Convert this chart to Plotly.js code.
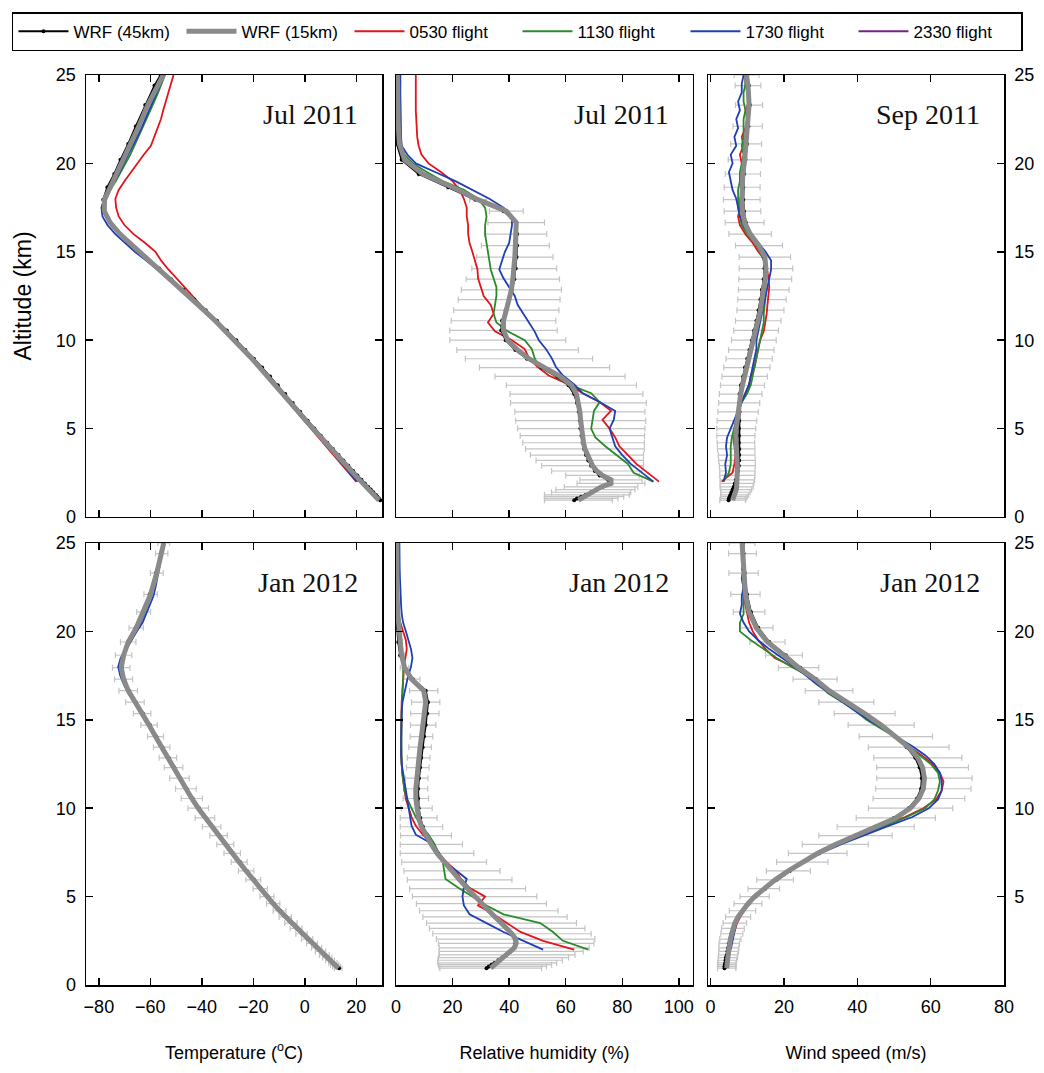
<!DOCTYPE html>
<html>
<head>
<meta charset="utf-8">
<script src="https://cdn.plot.ly/plotly-3.0.1.min.js"></script>
<style>
  html, body { margin: 0; padding: 0; background: #ffffff; }
  #chart { width: 1044px; height: 1073px; }
</style>
</head>
<body>
<div id="chart"></div>
<script>
// ---- Altitude levels (km) ----
// WRF model levels (denser near the surface)
const ALT_MODEL = [0.95, 1.05, 1.15, 1.25, 1.4, 1.55, 1.7, 1.9, 2.1, 2.35,
  2.6, 2.9, 3.2, 3.5, 3.85, 4.2, 4.6, 5.0, 5.45, 5.95,
  6.45, 6.95, 7.45, 7.95, 8.45, 8.95, 9.45, 10.0, 10.55, 11.1,
  11.7, 12.3, 12.85, 13.45, 14.05, 14.7, 15.35, 16.0, 16.65, 17.3,
  17.95, 18.65, 19.4, 20.2, 21.1, 22.1, 23.3, 24.4, 25.0];
// Flight (sounding) levels
const ALT_FLIGHT = [2.0, 2.5, 3.0, 3.5, 4.0, 4.5, 5.0, 5.5, 6.0, 6.5,
  7.0, 7.5, 8.0, 8.5, 9.0, 9.5, 10.0, 10.5, 11.0, 11.5,
  12.0, 12.5, 13.0, 13.5, 14.0, 14.5, 15.0, 15.5, 16.0, 16.5,
  17.0, 17.5, 18.0, 18.5, 19.0, 19.5, 20.0, 20.5, 21.0, 21.5,
  22.0, 22.5, 23.0, 23.5, 24.0, 24.5, 25.0];

// ---- Jul 2011 temperature (degC) ----
const julT_wrf45 = [29.3, 28.8, 28.2, 27.6, 26.6, 25.6, 24.6, 23.3, 22.0, 20.4,
  18.8, 16.9, 15.0, 13.1, 10.9, 8.7, 6.2, 3.7, 1.1, -1.8,
  -4.7, -7.6, -10.5, -13.5, -16.6, -19.8, -23.1, -26.6, -30.3, -34.1,
  -38.5, -43.0, -47.2, -51.9, -56.6, -61.9, -67.0, -71.8, -75.7, -78.2,
  -78.3, -76.7, -74.0, -71.6, -68.6, -65.6, -62.0, -58.4, -56.0];
const julT_wrf15 = [28.8, 28.2, 27.5, 26.9, 25.9, 24.9, 23.9, 22.6, 21.3, 19.7,
  18.1, 16.2, 14.3, 12.4, 10.2, 8.0, 5.5, 3.0, 0.4, -2.5,
  -5.4, -8.3, -11.2, -14.2, -17.3, -20.5, -23.8, -27.3, -31.0, -34.8,
  -39.2, -43.7, -47.8, -52.4, -57.0, -62.2, -67.2, -71.8, -75.6, -77.9,
  -77.8, -75.8, -73.2, -70.6, -67.5, -64.5, -61.0, -57.3, -55.0];
const julT_f0530 = [20.0, 17.0, 14.0, 11.3, 8.3, 5.3, 2.4, -0.6, -3.5, -6.3,
  -9.1, -12.0, -14.9, -18.0, -21.2, -24.5, -27.8, -31.2, -34.6, -37.5,
  -40.5, -43.5, -46.6, -49.8, -53.0, -55.8, -58.0, -62.0, -66.5, -70.0,
  -72.3, -73.3, -73.6, -72.3, -70.0, -67.6, -65.2, -62.5, -59.8, -58.5,
  -57.3, -55.9, -55.0, -54.0, -53.0, -52.0, -51.0];
const julT_f1130 = [20.8, 17.6, 14.5, 11.8, 9.2, 6.3, 3.2, 0.2, -2.8, -5.7,
  -8.6, -11.5, -14.5, -17.6, -20.8, -24.1, -27.3, -30.7, -34.2, -37.9,
  -41.6, -45.1, -48.6, -52.1, -56.0, -60.3, -64.5, -68.6, -72.2, -75.2,
  -77.3, -78.0, -77.2, -75.6, -73.4, -71.5, -69.6, -67.8, -66.2, -64.6,
  -63.0, -61.5, -60.0, -58.5, -57.0, -55.7, -54.3];
const julT_f1730 = [20.2, 17.3, 14.6, 12.0, 9.1, 6.2, 3.1, 0.3, -2.7, -5.6,
  -8.5, -11.4, -14.5, -17.6, -20.8, -24.0, -27.4, -30.9, -34.6, -38.5,
  -42.3, -46.0, -49.5, -53.2, -57.3, -61.6, -66.0, -70.0, -73.6, -76.6,
  -78.6, -79.0, -78.0, -76.2, -74.0, -72.0, -70.3, -68.5, -66.8, -65.0,
  -63.4, -62.0, -60.6, -59.0, -57.5, -56.0, -54.7];

// ---- Jul 2011 relative humidity (%) ----
const julRH_wrf45 = [63, 64, 65.5, 67, 69, 71, 73, 75.5, 75, 72,
  70.3, 69, 68, 67.2, 66.5, 66, 65.6, 65.2, 65, 64.6,
  64, 63, 61, 57, 51.5, 46.3, 42.2, 38.8, 37.2, 37.5,
  38.8, 40, 41, 41.8, 42.3, 42.6, 42.8, 42.8, 42.5, 38,
  28, 18.5, 8, 2, 0.3, 0, 0, 0, 0];
const julRH_wrf15 = [64.5, 65.5, 66.5, 67.5, 69, 70.5, 72.5, 76, 76, 73,
  71, 69.5, 68.5, 67.5, 66.8, 66.3, 65.9, 65.5, 65.3, 65,
  64.5, 63.8, 62, 58, 52.5, 47, 43, 39.5, 38, 38,
  39, 40, 40.8, 41.3, 41.8, 42, 42.2, 42.3, 42.5, 39,
  29, 20, 9.5, 3, 1.2, 0.8, 0.6, 0.5, 0.5];
const julRH_err = [12, 13, 14, 15, 14, 14, 13, 12, 11, 13,
  16, 18, 19, 20, 21, 21.5, 22, 22.5, 23, 23,
  24, 23.5, 23, 23, 23, 22.5, 21.5, 20.5, 19, 18.5,
  18.6, 18, 17.7, 16.5, 15, 13.5, 12, 11, 10, 6,
  3, 2, 1.5, 1, 0.5, 0.3, 0.3, 0.3, 0.3];
const julRH_f0530 = [93, 89, 85, 82, 79, 77.5, 75.5, 73, 76, 72,
  66, 61, 54, 50, 47, 45.5, 41, 35, 32.5, 34.5,
  33.5, 31, 30, 29, 28.8, 28, 27, 26, 25.5, 25.5,
  25, 25, 24, 22.5, 20, 16, 11.5, 9, 8, 7.5,
  7.3, 7.2, 7, 7, 7, 7, 7];
const julRH_f1130 = [91, 84, 82, 78, 74, 70.5, 69, 69.5, 70, 72,
  69, 61, 56, 50.5, 49, 48, 45.5, 39.5, 35.5, 34.5,
  35, 35.5, 35.5, 34.5, 33.5, 33, 32.5, 32, 31.5, 31.5,
  32, 31.5, 29, 24, 16.5, 11, 6, 3, 2, 1.5,
  1.5, 1.5, 1.5, 1.5, 1.5, 1.5, 1.5];
const julRH_f1730 = [91, 87, 83, 80, 77.5, 76.5, 75.5, 77, 77.5, 72,
  66, 63, 59, 56.5, 55, 53, 50.5, 49, 47, 45,
  43, 42, 40, 38, 36.5, 37.5, 38.5, 40, 40.5, 41,
  41, 38, 33, 27, 21, 14, 7, 4, 2, 1.8,
  1.7, 1.6, 1.5, 1.5, 1.5, 1.5, 1.5];

// ---- Sep 2011 wind speed (m/s) ----
const sepWS_wrf45 = [4.9, 5.0, 5.2, 5.4, 5.7, 6.0, 6.3, 6.6, 6.9, 7.2,
  7.5, 7.7, 7.8, 7.8, 7.8, 7.7, 7.7, 7.7, 7.8, 7.9,
  7.9, 7.9, 8.3, 8.9, 9.4, 10.0, 10.6, 11.3, 11.9, 12.5,
  13.1, 13.6, 14.0, 14.5, 14.7, 14.5, 13.0, 10.9, 9.6, 9.1,
  8.9, 8.9, 9.1, 9.5, 9.9, 10.3, 10.7, 10.4, 10.0];
const sepWS_wrf15 = [6.0, 6.2, 6.4, 6.6, 6.8, 7.0, 7.1, 7.2, 7.3, 7.3,
  7.3, 7.3, 7.2, 7.1, 7.0, 6.9, 6.9, 7.0, 7.2, 7.5,
  7.8, 8.2, 8.7, 9.3, 9.9, 10.5, 11.1, 11.8, 12.4, 13.0,
  13.6, 14.0, 14.5, 14.9, 15.1, 14.8, 13.2, 10.8, 9.3, 8.7,
  8.5, 8.6, 8.8, 9.3, 9.7, 10.1, 10.5, 10.2, 9.8];
const sepWS_err = [3.5, 3.5, 3.6, 3.8, 4, 4.2, 4.5, 4.6, 4.7, 4.8,
  4.8, 4.9, 5, 5, 5.1, 5.1, 5.2, 5.3, 5.4, 5.5,
  5.6, 5.8, 6, 6.2, 6.3, 6.3, 6.2, 6.1, 6.1, 6.2,
  6.4, 6.6, 6.9, 7.2, 7.3, 7, 6.4, 5.8, 5.3, 5,
  5, 4.9, 4.8, 4.5, 4.2, 4, 3.7, 3.5, 3.4];
const sepWS_f0530 = [3.0, 6.0, 6.5, 6.8, 6.5, 6.2, 6.5, 7, 7.5, 8.5,
  9.5, 10.5, 11, 12, 12.5, 13, 13.5, 14.5, 15, 15.3,
  15.5, 15.8, 16, 15.8, 15.5, 15, 13, 11.5, 9.5, 8,
  7.5, 8, 8, 9, 8.5, 9, 8.5, 8, 9, 8.5,
  9.5, 10, 9.5, 10.5, 10, 9.5, 9.5];
const sepWS_f1130 = [3.5, 5, 5.5, 5.5, 5.5, 5.8, 6.5, 7, 7.5, 8.5,
  10, 11, 11.5, 12, 12.5, 13, 13.5, 14, 14.5, 14.5,
  14.8, 15, 15, 15, 15, 14.5, 13.5, 12, 10, 8.5,
  8, 7.5, 7.5, 7.5, 8, 8, 8.5, 9, 8.5, 9,
  9, 9, 9.5, 9, 9, 9.5, 9.5];
const sepWS_f1730 = [3.5, 4.2, 4, 4.5, 4.2, 4.5, 5.5, 6.5, 7.5, 8.5,
  9.5, 10.5, 11, 11.5, 12, 12.5, 12.5, 13, 13.5, 14,
  14.5, 15, 15.5, 16, 16.5, 16.5, 15, 13, 10.5, 9,
  8, 7.5, 7, 6, 5.5, 5, 6, 5.5, 7, 6.5,
  7.5, 7, 8, 7.5, 8.5, 8.5, 9];

// ---- Jan 2012 temperature (degC) ----
const janT_wrf45 = [13.3, 12.6, 11.9, 11.2, 10.1, 9.0, 7.9, 6.4, 4.9, 3.1,
  1.2, -1.0, -3.1, -5.1, -7.3, -9.5, -12.0, -14.4, -17.0, -19.7,
  -22.5, -25.2, -27.9, -30.6, -33.2, -35.9, -38.5, -41.1, -43.6, -45.9,
  -48.4, -50.7, -52.9, -55.3, -57.7, -60.2, -62.9, -65.7, -68.3, -70.2,
  -71.1, -70.3, -68.6, -65.7, -62.8, -60.2, -57.8, -55.9, -55.1];
const janT_wrf15 = [13.0, 12.3, 11.6, 10.9, 9.8, 8.7, 7.6, 6.1, 4.6, 2.8,
  0.9, -1.3, -3.4, -5.4, -7.6, -9.8, -12.3, -14.7, -17.3, -20.0,
  -22.8, -25.5, -28.2, -30.9, -33.5, -36.2, -38.8, -41.4, -43.9, -46.2,
  -48.7, -51.0, -53.2, -55.6, -58.0, -60.5, -63.2, -66.0, -68.6, -70.4,
  -71.3, -70.4, -68.6, -65.5, -62.6, -59.9, -57.5, -55.6, -54.8];
const janT_err = [1.5, 1.5, 1.6, 1.6, 1.7, 1.8, 1.9, 2.0, 2.0, 2.1,
  2.2, 2.2, 2.3, 2.4, 2.4, 2.5, 2.6, 2.7, 2.8, 2.9,
  3.0, 3.1, 3.2, 3.3, 3.4, 3.6, 3.8, 4.0, 4.1, 4.0,
  3.8, 3.6, 3.4, 3.2, 3.1, 3.2, 3.4, 3.6, 3.6, 3.5,
  3.4, 3.2, 3.0, 2.8, 2.7, 2.6, 2.5, 2.4, 2.3];
const janT_f0530 = [5.2, 1.6, -2.0, -5.5, -8.7, -11.8, -14.8, -17.6, -20.3, -23.1,
  -25.8, -28.5, -31.2, -33.8, -36.4, -39.0, -41.4, -43.7, -45.8, -47.9,
  -49.9, -51.8, -53.7, -55.8, -57.8, -59.8, -61.8, -63.8, -66.0, -68.2,
  -69.9, -71.0, -71.3, -70.6, -69.2, -67.4, -65.6, -63.8, -62.5, -61.2,
  -60.0, -59.0, -58.0, -57.1, -56.2, -55.4, -54.7];
const janT_f1130 = [5.0, 1.4, -2.1, -5.6, -8.9, -12.0, -15.0, -17.8, -20.5, -23.3,
  -26.0, -28.7, -31.3, -33.9, -36.5, -39.1, -41.5, -43.8, -45.9, -48.0,
  -50.0, -52.0, -53.9, -55.9, -57.9, -59.9, -62.0, -64.1, -66.3, -68.5,
  -70.2, -71.2, -71.6, -70.9, -69.4, -67.5, -65.6, -63.9, -62.3, -60.9,
  -59.7, -58.7, -57.8, -56.9, -56.1, -55.4, -54.8];
const janT_f1730 = [5.0, 1.5, -2.0, -5.5, -8.8, -11.8, -14.8, -17.7, -20.4, -23.2,
  -25.9, -28.6, -31.3, -34.0, -36.6, -39.2, -41.6, -43.8, -46.0, -48.0,
  -50.0, -52.0, -53.9, -55.9, -58.0, -60.0, -62.0, -64.0, -66.2, -68.5,
  -70.3, -71.7, -72.5, -71.5, -69.5, -67.3, -65.3, -63.0, -61.5, -60.0,
  -58.8, -58.0, -57.3, -56.6, -55.9, -55.3, -54.7];

// ---- Jan 2012 relative humidity (%) ----
const janRH_wrf45 = [32, 32.8, 33.8, 34.8, 36.2, 37.6, 39, 40.5, 41.6, 42.2,
  42, 40.8, 39.1, 37.2, 35, 32.8, 30.3, 27.9, 25.4, 22.6,
  19.9, 17.2, 14.8, 12.8, 11, 9.5, 8.6, 8, 7.8, 7.8,
  8.1, 8.5, 8.9, 9.4, 9.9, 10.5, 11, 11.3, 10.5, 6,
  3, 1.5, 0.8, 0.3, 0, 0, 0, 0, 0];
const janRH_wrf15 = [33.5, 34.2, 35, 35.8, 36.8, 38, 39.3, 40.7, 41.8, 42.5,
  42.3, 41, 39.3, 37.3, 35, 32.8, 30.2, 27.8, 25.3, 22.5,
  19.8, 17, 14.5, 12.5, 10.6, 9, 8, 7.3, 7, 7,
  7.3, 7.7, 8, 8.5, 9, 9.6, 10.2, 10.5, 9.8, 5.5,
  3, 2, 1.5, 1, 0.6, 0.4, 0.3, 0.3, 0.3];
const janRH_err = [18, 19, 20, 21, 22, 23, 24, 25.5, 26.5, 27.5,
  28, 28, 27.5, 26.5, 25.5, 24.5, 23, 22, 20.5, 18.5,
  17, 15, 13, 11, 9, 7.5, 6.5, 5.5, 4.5, 4.2,
  4, 4, 4, 4, 4, 4.5, 5, 5, 5, 3,
  1.5, 1, 0.8, 0.5, 0.3, 0.2, 0.2, 0.2, 0.2];
const janRH_f0530 = [63, 52, 44, 39, 34.5, 29, 31.5, 26, 23, 21,
  17.5, 15, 12.5, 9.5, 7, 5.5, 4.5, 3.5, 3, 2.5,
  2.2, 2, 1.8, 1.8, 1.8, 1.8, 1.8, 1.9, 2, 2.2,
  2.5, 2.6, 2.8, 3.3, 3.8, 3.5, 2.5, 1.5, 0.8, 0.5,
  0.4, 0.4, 0.4, 0.4, 0.4, 0.4, 0.4];
const janRH_f1130 = [68, 59, 55.5, 51, 38, 32, 27, 22, 17.5, 17,
  16.5, 15, 13.5, 11.5, 9, 7, 5.5, 4, 3, 2.5,
  2.2, 2, 1.9, 1.9, 1.9, 1.9, 1.9, 2, 2.1, 2.3,
  2.5, 2.6, 2.5, 2.2, 2, 1.5, 1, 0.8, 0.6, 0.5,
  0.5, 0.5, 0.5, 0.5, 0.5, 0.5, 0.5];
const janRH_f1730 = [52, 45, 38, 32, 26, 24, 23.5, 24, 25, 21,
  16.5, 15, 12.5, 7, 5.5, 5, 4.5, 4, 3.5, 3,
  2.5, 2, 1.8, 1.8, 1.8, 1.8, 1.8, 2, 2.3, 3,
  3.5, 4.3, 5.3, 5.8, 5.3, 4.5, 3.5, 2.5, 2, 1.8,
  1.6, 1.5, 1.4, 1.3, 1.2, 1.2, 1.2];

// ---- Jan 2012 wind speed (m/s) ----
const janWS_wrf45 = [3.8, 3.8, 3.9, 4.0, 4.1, 4.2, 4.4, 4.6, 4.8, 5.0,
  5.3, 5.7, 6.1, 6.7, 7.6, 8.8, 10.4, 12.3, 14.9, 18.0,
  21.6, 25.4, 29.6, 34.3, 39.6, 44.8, 50, 54, 56.3, 57.4,
  57.6, 57, 55.8, 53.5, 50.2, 46.3, 41.8, 37, 32.5, 28.8,
  24.5, 20.5, 16, 13, 11, 9.9, 9.3, 9.0, 8.8];
const janWS_wrf15 = [4.4, 4.4, 4.4, 4.5, 4.6, 4.7, 4.8, 4.9, 5.0, 5.1,
  5.4, 5.8, 6.1, 6.6, 7.5, 8.7, 10.2, 12.0, 14.5, 17.6,
  21.2, 25, 29.2, 34, 39.5, 45, 50.5, 54.5, 56.8, 58,
  58.3, 57.8, 56.5, 54, 50.5, 46.5, 42, 37, 32.3, 28.5,
  24, 20, 15.5, 12.5, 10.5, 9.5, 9.0, 8.7, 8.6];
const janWS_err = [2.5, 2.5, 2.5, 2.5, 2.5, 2.6, 2.6, 2.7, 2.7, 2.8,
  2.9, 3, 3.1, 3.2, 3.4, 3.6, 3.8, 4, 4.3, 5,
  6, 7, 8, 9, 10, 10.5, 10.8, 11.5, 12.5, 13,
  13, 12.5, 12, 11, 10, 9, 8.3, 7.5, 6.5, 6,
  5.5, 5, 4.8, 4.5, 4.3, 4, 4, 3.8, 3.5];
const janWS_f0530 = [5, 5.8, 6.5, 7.2, 8.5, 10, 12, 15, 18.5, 22,
  26, 30, 35, 41, 47, 53, 58, 61.5, 63, 63.5,
  62.5, 60.5, 57.5, 54, 50.5, 47, 43, 40, 36.5, 33,
  30, 26.5, 22.5, 17.5, 15, 13, 11.5, 10.5, 10, 9.5,
  9, 9, 9.5, 8.5, 9, 8.5, 8.5];
const janWS_f1130 = [5, 5.3, 5.8, 6.5, 7.8, 9.5, 11.8, 14.5, 18, 21.5,
  25.5, 30, 35.5, 41.5, 47.5, 53.5, 58.5, 61, 62, 62.5,
  62, 60, 57, 54, 50.5, 46.5, 42.5, 39.5, 36, 32,
  29.5, 26.5, 22, 18, 14.5, 11, 8, 8, 9, 9,
  9, 9, 8.5, 9, 8.5, 8.5, 8.5];
const janWS_f1730 = [5.5, 6, 6.5, 7, 8, 9.8, 12, 15, 18.5, 22,
  26, 30.5, 36, 42, 48.5, 55, 59.5, 62, 63, 63,
  62.5, 61, 58.5, 55, 51, 47, 43, 39.5, 36, 32.5,
  29, 26, 23, 19.5, 16, 13, 10.5, 9, 8, 8.5,
  8.5, 9, 8.5, 9, 9, 9, 9];

// ---- Labels ----
const SERIES_NAMES = ['WRF (45km)', 'WRF (15km)', '0530 flight', '1130 flight', '1730 flight', '2330 flight'];
const PANEL_LABELS = ['Jul 2011', 'Jul 2011', 'Sep 2011', 'Jan 2012', 'Jan 2012', 'Jan 2012'];
const X_TITLES = ['Temperature (<sup>o</sup>C)', 'Relative humidity (%)', 'Wind speed (m/s)'];
const Y_TITLE = 'Altitude (km)';
const ALT_TICKS = [0, 5, 10, 15, 20, 25];
const T_TICKS = [-80, -60, -40, -20, 0, 20];
const RH_TICKS = [0, 20, 40, 60, 80, 100];
const WS_TICKS = [0, 20, 40, 60, 80];

// ---- Styling ----
const C_RED = '#e3141b', C_GREEN = '#2a8a2a', C_BLUE = '#1f3fb4', C_PURPLE = '#7a1e88';
const C_GRAY = '#8a8a8a', C_ERR = '#c4c4c4';

const panels = [
  { xa: 'x',  ya: 'y',  m45: julT_wrf45, m15: julT_wrf15, err: null,       f: [julT_f0530, julT_f1130, julT_f1730] },
  { xa: 'x2', ya: 'y2', m45: julRH_wrf45, m15: julRH_wrf15, err: julRH_err, f: [julRH_f0530, julRH_f1130, julRH_f1730] },
  { xa: 'x3', ya: 'y3', m45: sepWS_wrf45, m15: sepWS_wrf15, err: sepWS_err, f: [sepWS_f0530, sepWS_f1130, sepWS_f1730] },
  { xa: 'x4', ya: 'y4', m45: janT_wrf45, m15: janT_wrf15, err: janT_err,   f: [janT_f0530, janT_f1130, janT_f1730] },
  { xa: 'x5', ya: 'y5', m45: janRH_wrf45, m15: janRH_wrf15, err: janRH_err, f: [janRH_f0530, janRH_f1130, janRH_f1730] },
  { xa: 'x6', ya: 'y6', m45: janWS_wrf45, m15: janWS_wrf15, err: janWS_err, f: [janWS_f0530, janWS_f1130, janWS_f1730] }
];
const flightColors = [C_RED, C_GREEN, C_BLUE];

const traces = [];
panels.forEach((p, i) => {
  const first = i === 0;
  // spread of the 15 km run, drawn underneath everything
  if (p.err) {
    traces.push({
      type: 'scatter', mode: 'markers', x: p.m15, y: ALT_MODEL, xaxis: p.xa, yaxis: p.ya,
      marker: { size: 2, color: 'rgba(0,0,0,0)' },
      error_x: { type: 'data', array: p.err, visible: true, color: C_ERR, thickness: 1.2, width: 3 },
      showlegend: false, hoverinfo: 'skip'
    });
  }
  p.f.forEach((vals, k) => {
    traces.push({
      type: 'scatter', mode: 'lines', x: vals, y: ALT_FLIGHT, xaxis: p.xa, yaxis: p.ya,
      name: SERIES_NAMES[k + 2], legendrank: k + 3, showlegend: first,
      line: { color: flightColors[k], width: 1.8 }
    });
  });
  traces.push({
    type: 'scatter', mode: 'lines+markers', x: p.m45, y: ALT_MODEL, xaxis: p.xa, yaxis: p.ya,
    name: SERIES_NAMES[0], legendrank: 1, showlegend: first,
    line: { color: '#000000', width: 2 }, marker: { color: '#000000', size: 4 }
  });
  traces.push({
    type: 'scatter', mode: 'lines', x: p.m15, y: ALT_MODEL, xaxis: p.xa, yaxis: p.ya,
    name: SERIES_NAMES[1], legendrank: 2, showlegend: first,
    line: { color: C_GRAY, width: 5 }
  });
});
// 2330 flight: legend entry only
traces.push({
  type: 'scatter', mode: 'lines', x: [null], y: [null], xaxis: 'x', yaxis: 'y',
  name: SERIES_NAMES[5], legendrank: 6, showlegend: true,
  line: { color: C_PURPLE, width: 2 }
});

const FONT = 'Liberation Sans, Arial, sans-serif';
const tickFont = { family: FONT, size: 18, color: '#000' };
function axisBase(extra) {
  return Object.assign({
    showline: true, linecolor: '#000', linewidth: 1.5, mirror: 'ticks',
    ticks: 'inside', ticklen: 7, tickwidth: 1.5, tickcolor: '#000',
    showgrid: false, zeroline: false, tickfont: tickFont, ticklabelstandoff: 5,
    tickmode: 'array', fixedrange: true
  }, extra);
}

// plot area spans x 86..1030, y 73..985
const colDom = [[0, 0.3136], [0.3284, 0.6430], [0.6589, 0.9725]];
const rowDom = [[0.5143, 1], [0, 0.4857]];
const xRanges = [[-85, 30], [0, 105], [-0.7, 80]];
const xTicks = [T_TICKS, RH_TICKS, WS_TICKS];

const layout = {
  width: 1044, height: 1073,
  margin: { l: 86, r: 14, t: 73, b: 88 },
  paper_bgcolor: '#ffffff', plot_bgcolor: '#ffffff',
  font: { family: FONT, color: '#000' },
  showlegend: true,
  legend: {
    orientation: 'h', x: -0.0784, y: 1.069, xanchor: 'left', yanchor: 'top',
    bordercolor: '#000', borderwidth: 1.5, bgcolor: '#ffffff',
    font: { family: FONT, size: 17, color: '#000' },
    entrywidth: 103, itemwidth: 50, traceorder: 'normal'
  },
  annotations: [],
  hovermode: false
};

for (let r = 0; r < 2; r++) {
  for (let c = 0; c < 3; c++) {
    const n = r * 3 + c + 1;
    const xk = n === 1 ? 'xaxis' : 'xaxis' + n;
    const yk = n === 1 ? 'yaxis' : 'yaxis' + n;
    const xid = n === 1 ? 'x' : 'x' + n;
    const yid = n === 1 ? 'y' : 'y' + n;
    const xa = axisBase({
      domain: colDom[c], anchor: yid, range: xRanges[c], tickvals: xTicks[c],
      showticklabels: r === 1
    });
    if (r === 1) xa.title = { text: X_TITLES[c], font: { family: FONT, size: 18 }, standoff: 30 };
    layout[xk] = xa;
    const yTicks = (r === 1 && c === 2) ? ALT_TICKS.slice(1) : ALT_TICKS;
    const ya = axisBase({
      domain: rowDom[r], anchor: xid, range: [0, 25], tickvals: yTicks,
      showticklabels: c !== 1, side: c === 2 ? 'right' : 'left'
    });
    if (r === 0 && c === 0) ya.title = { text: Y_TITLE, font: { family: FONT, size: 23 }, standoff: 18 };
    layout[yk] = ya;
    layout.annotations.push({
      xref: xid + ' domain', yref: yid + ' domain', x: 0.925, y: 0.91,
      xanchor: 'right', yanchor: 'middle', showarrow: false,
      text: PANEL_LABELS[n - 1],
      font: { family: 'Liberation Serif, Times New Roman, serif', size: 28, color: '#111' }
    });
  }
}

Plotly.newPlot('chart', traces, layout, { staticPlot: true, displayModeBar: false });
</script>
</body>
</html>
